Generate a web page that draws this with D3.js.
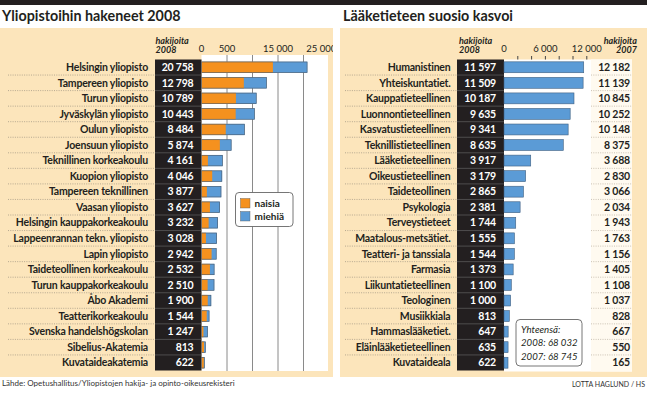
<!DOCTYPE html>
<html><head><meta charset="utf-8">
<script src="https://cdn.jsdelivr.net/npm/d3@7"></script>
<style>
body{margin:0;background:#fff;}
svg{display:block;font-family:Lato,"Open Sans",sans-serif;}
</style></head>
<body><svg id="c" width="647" height="400"></svg>
<script>
// ---------- DATA ----------
const uniNames = ["Helsingin yliopisto","Tampereen yliopisto","Turun yliopisto","Jyväskylän yliopisto","Oulun yliopisto","Joensuun yliopisto","Teknillinen korkeakoulu","Kuopion yliopisto","Tampereen teknillinen","Vaasan yliopisto","Helsingin kauppakorkeakoulu","Lappeenrannan tekn. yliopisto","Lapin yliopisto","Taideteollinen korkeakoulu","Turun kauppakorkeakoulu","Åbo Akademi","Teatterikorkeakoulu","Svenska handelshögskolan","Sibelius-Akatemia","Kuvataideakatemia"];
const uniTotal = [20758,12798,10789,10443,8484,5874,4161,4046,3877,3627,3232,3028,2942,2532,2510,1900,1544,1247,813,622];
const uniWomen = [14000,8300,6750,6700,4750,3600,1250,2100,1050,1650,1400,870,1980,1650,1200,1220,1020,380,500,450];
const uniGrid = [5000,10000,15000,20000];
const uniTickPos = [0,5000,15000,23500];
const uniTickText = ["0","500","15 000","25 000"];

const fieldNames = ["Humanistinen","Yhteiskuntatiet.","Kauppatieteellinen","Luonnontieteellinen","Kasvatustieteellinen","Teknillistieteellinen","Lääketieteellinen","Oikeustieteellinen","Taideteollinen","Psykologia","Terveystieteet","Maatalous-metsätiet.","Teatteri- ja tanssiala","Farmasia","Liikuntatieteellinen","Teologinen","Musiikkiala","Hammaslääketiet.","Eläinlääketieteellinen","Kuvataideala"];
const field2008 = [11597,11509,10187,9635,9341,8635,3917,3179,2865,2381,1744,1555,1544,1373,1100,1000,813,647,635,622];
const field2007 = [12182,11139,10845,10252,10148,8375,3688,2830,3066,2034,1943,1763,1156,1405,1108,1037,828,667,550,165];
const fieldTicks = [2000,4000,6000,8000,10000,12000];
const fieldTickLabels = [0,6000,12000];
const totals = ["Yhteensä:","2008: 68 032","2007: 68 745"];

// ---------- STYLE ----------
const BEIGE="#fce5bb", ORANGE="#f5911e", BLUE="#5b9bd6", BLACK="#231f20", TXT="#231f20";
const FS=10.5, LS=-0.2;
const fmt = d3.formatLocale({decimal:",",thousands:" ",grouping:[3],currency:["","€"]}).format(",d");

const svg = d3.select("#c");
svg.append("rect").attr("x",0).attr("y",0).attr("width",647).attr("height",5).attr("fill",BLACK);

// ================= LEFT PANEL =================
svg.append("defs").append("clipPath").attr("id","clipL")
  .append("rect").attr("x",0).attr("y",0).attr("width",333).attr("height",400);
const L = svg.append("g").attr("clip-path","url(#clipL)");
L.append("rect").attr("x",0).attr("y",28).attr("width",333).attr("height",349).attr("fill",BEIGE);
svg.append("text").attr("x",2).attr("y",21).attr("font-size",14.3).attr("font-weight",700)
  .attr("fill",TXT).text("Yliopistoihin hakeneet 2008");

const yL = d3.scaleBand().domain(uniNames).range([59.5,370.5]).paddingInner(0.28).paddingOuter(0.14);
const stepL = yL.step();
const xL = d3.scaleLinear().domain([0,25000]).range([201.5,329]);

L.append("rect").attr("x",xL(0)).attr("y",55).attr("width",328-xL(0)).attr("height",371-55).attr("fill","#fff");
L.selectAll("line.grid").data(uniGrid).join("line")
  .attr("x1",d=>xL(d)).attr("x2",d=>xL(d)).attr("y1",55).attr("y2",371)
  .attr("stroke","#8a8a8a").attr("stroke-width",1);
L.selectAll("text.tick").data(uniTickPos).join("text")
  .attr("x",d=>xL(d)).attr("y",52).attr("text-anchor","middle").attr("font-size",9.5)
  .attr("fill",TXT).text((d,i)=>uniTickText[i]);

// header
L.append("text").attr("x",155.5).attr("y",43.5).attr("font-size",9).attr("font-weight",700)
  .attr("font-style","italic").attr("fill",TXT).text("hakijoita");
L.append("text").attr("x",155.5).attr("y",53).attr("font-size",9).attr("font-weight",700)
  .attr("font-style","italic").attr("fill",TXT).text("2008");

// black column
const rowTopL = d => yL(d) - stepL*0.14;
L.append("rect").attr("x",155).attr("y",59.5).attr("width",xL(0)-155).attr("height",311).attr("fill",BLACK);
L.selectAll("line.sepb").data(uniNames.slice(1)).join("line")
  .attr("x1",155).attr("x2",xL(0)).attr("y1",d=>rowTopL(d)).attr("y2",d=>rowTopL(d))
  .attr("stroke","#6b6b6b").attr("stroke-width",0.6);
L.selectAll("line.dot").data(uniNames.slice(1)).join("line")
  .attr("x1",8).attr("x2",155).attr("y1",d=>rowTopL(d)).attr("y2",d=>rowTopL(d))
  .attr("stroke","#9a8f7e").attr("stroke-width",0.7).attr("stroke-dasharray","1,1.3");

// labels
L.selectAll("text.lab").data(uniNames).join("text")
  .attr("x",148).attr("y",d=>yL(d)+yL.bandwidth()/2+3.7).attr("text-anchor","end")
  .attr("font-size",FS).attr("letter-spacing",LS).attr("font-weight",700).attr("fill",TXT).text(d=>d);
L.selectAll("text.val").data(uniTotal).join("text")
  .attr("x",193.5).attr("y",(d,i)=>yL(uniNames[i])+yL.bandwidth()/2+3.7).attr("text-anchor","end")
  .attr("font-size",FS).attr("letter-spacing",LS).attr("font-weight",700).attr("fill","#fff").text(d=>fmt(d));

// bars
L.selectAll("rect.m").data(uniTotal).join("rect")
  .attr("x",xL(0)).attr("y",(d,i)=>yL(uniNames[i])).attr("width",d=>xL(d)-xL(0))
  .attr("height",yL.bandwidth()).attr("fill",BLUE);
L.selectAll("rect.w").data(uniWomen).join("rect")
  .attr("x",xL(0)).attr("y",(d,i)=>yL(uniNames[i])).attr("width",d=>xL(d)-xL(0))
  .attr("height",yL.bandwidth()).attr("fill",ORANGE);
L.selectAll("rect.o").data(uniTotal).join("rect")
  .attr("x",xL(0)).attr("y",(d,i)=>yL(uniNames[i])+0.3).attr("width",d=>xL(d)-xL(0)-0.3)
  .attr("height",yL.bandwidth()-0.6).attr("fill","none").attr("stroke","#4d5b6a").attr("stroke-width",0.6);

// legend
const lg = L.append("g");
lg.append("rect").attr("x",235.5).attr("y",192.5).attr("width",57.5).attr("height",34).attr("rx",3.5)
  .attr("fill","#fff").attr("stroke","#666").attr("stroke-width",0.9);
const legItems = [["naisia",ORANGE],["miehiä",BLUE]];
lg.selectAll("rect.k").data(legItems).join("rect")
  .attr("x",240.5).attr("y",(d,i)=>198.5+i*13).attr("width",9.5).attr("height",9.5)
  .attr("fill",d=>d[1]).attr("stroke","#555").attr("stroke-width",0.4);
lg.selectAll("text.k").data(legItems).join("text")
  .attr("x",254.5).attr("y",(d,i)=>206.5+i*13).attr("font-size",10).attr("font-weight",700)
  .attr("fill",TXT).text(d=>d[0]);

// ================= RIGHT PANEL =================
const R = svg.append("g");
R.append("rect").attr("x",340).attr("y",28).attr("width",307).attr("height",349).attr("fill",BEIGE);
svg.append("text").attr("x",343).attr("y",21).attr("font-size",14.3).attr("font-weight",700)
  .attr("fill",TXT).text("Lääketieteen suosio kasvoi");

const yR = d3.scaleBand().domain(fieldNames).range([59.5,370.5]).paddingInner(0.26).paddingOuter(0.13);
const stepR = yR.step();
const xR = d3.scaleLinear().domain([0,12000]).range([504,586.8]);
const rowTopR = d => yR(d) - stepR*0.13;

R.append("rect").attr("x",504).attr("y",59.5).attr("width",128).attr("height",312).attr("fill","#fff");
R.append("rect").attr("x",591).attr("y",59.5).attr("width",41).attr("height",312).attr("fill","#fffaf0");
R.selectAll("line.tk").data(fieldTicks).join("line")
  .attr("x1",d=>xR(d)).attr("x2",d=>xR(d)).attr("y1",56).attr("y2",59.5)
  .attr("stroke","#444").attr("stroke-width",1);
R.selectAll("text.tick").data(fieldTickLabels).join("text")
  .attr("x",d=>xR(d)).attr("y",52).attr("text-anchor","middle").attr("font-size",9.5)
  .attr("fill",TXT).text(d=>fmt(d));

R.append("text").attr("x",459).attr("y",43.5).attr("font-size",9).attr("font-weight",700)
  .attr("font-style","italic").attr("fill",TXT).text("hakijoita");
R.append("text").attr("x",459).attr("y",53).attr("font-size",9).attr("font-weight",700)
  .attr("font-style","italic").attr("fill",TXT).text("2008");
R.append("text").attr("x",637).attr("y",43.5).attr("text-anchor","end").attr("font-size",9).attr("font-weight",700)
  .attr("font-style","italic").attr("fill",TXT).text("hakijoita");
R.append("text").attr("x",637).attr("y",53).attr("text-anchor","end").attr("font-size",9).attr("font-weight",700)
  .attr("font-style","italic").attr("fill",TXT).text("2007");

R.append("rect").attr("x",457).attr("y",59.5).attr("width",47).attr("height",311).attr("fill",BLACK);
R.selectAll("line.sepb").data(fieldNames.slice(1)).join("line")
  .attr("x1",457).attr("x2",504).attr("y1",d=>rowTopR(d)).attr("y2",d=>rowTopR(d))
  .attr("stroke","#6b6b6b").attr("stroke-width",0.6);
R.selectAll("line.dot").data(fieldNames.slice(1)).join("line")
  .attr("x1",345).attr("x2",457).attr("y1",d=>rowTopR(d)).attr("y2",d=>rowTopR(d))
  .attr("stroke","#9a8f7e").attr("stroke-width",0.7).attr("stroke-dasharray","1,1.3");
R.selectAll("line.dot2").data(fieldNames.slice(1)).join("line")
  .attr("x1",591).attr("x2",632).attr("y1",d=>rowTopR(d)).attr("y2",d=>rowTopR(d))
  .attr("stroke","#b5ab9b").attr("stroke-width",0.7).attr("stroke-dasharray","1,1.3");

R.selectAll("text.lab").data(fieldNames).join("text")
  .attr("x",450.5).attr("y",d=>yR(d)+yR.bandwidth()/2+3.7).attr("text-anchor","end")
  .attr("font-size",FS).attr("letter-spacing",LS).attr("font-weight",700).attr("fill",TXT).text(d=>d);
R.selectAll("text.val").data(field2008).join("text")
  .attr("x",496).attr("y",(d,i)=>yR(fieldNames[i])+yR.bandwidth()/2+3.7).attr("text-anchor","end")
  .attr("font-size",FS).attr("letter-spacing",LS).attr("font-weight",700).attr("fill","#fff").text(d=>fmt(d));
R.selectAll("text.v7").data(field2007).join("text")
  .attr("x",630).attr("y",(d,i)=>yR(fieldNames[i])+yR.bandwidth()/2+3.7).attr("text-anchor","end")
  .attr("font-size",FS).attr("letter-spacing",LS).attr("font-weight",700).attr("fill",TXT).text(d=>fmt(d));

R.selectAll("rect.b").data(field2008).join("rect")
  .attr("x",xR(0)).attr("y",(d,i)=>yR(fieldNames[i])+0.3).attr("width",d=>xR(d)-xR(0)-0.3)
  .attr("height",yR.bandwidth()-0.6).attr("fill",BLUE).attr("stroke","#3f5f80").attr("stroke-width",0.6);

// totals box
const tb = R.append("g");
tb.append("rect").attr("x",516).attr("y",319.5).attr("width",66).attr("height",46.5).attr("rx",4)
  .attr("fill","#fff").attr("stroke","#666").attr("stroke-width",0.9);
tb.selectAll("text").data(totals).join("text")
  .attr("x",521).attr("y",(d,i)=>332.5+i*13.7).attr("font-size",9.6).attr("font-style","italic")
  .attr("font-weight",400).attr("fill",TXT).text(d=>d);

// footers
svg.append("text").attr("x",2).attr("y",386).attr("font-size",8).attr("fill","#333")
  .text("Lähde: Opetushallitus/Yliopistojen hakija- ja opinto-oikeusrekisteri");
svg.append("text").attr("x",645).attr("y",387).attr("text-anchor","end").attr("font-size",7).attr("fill","#333")
  .text("LOTTA HAGLUND / HS");
</script></body></html>
